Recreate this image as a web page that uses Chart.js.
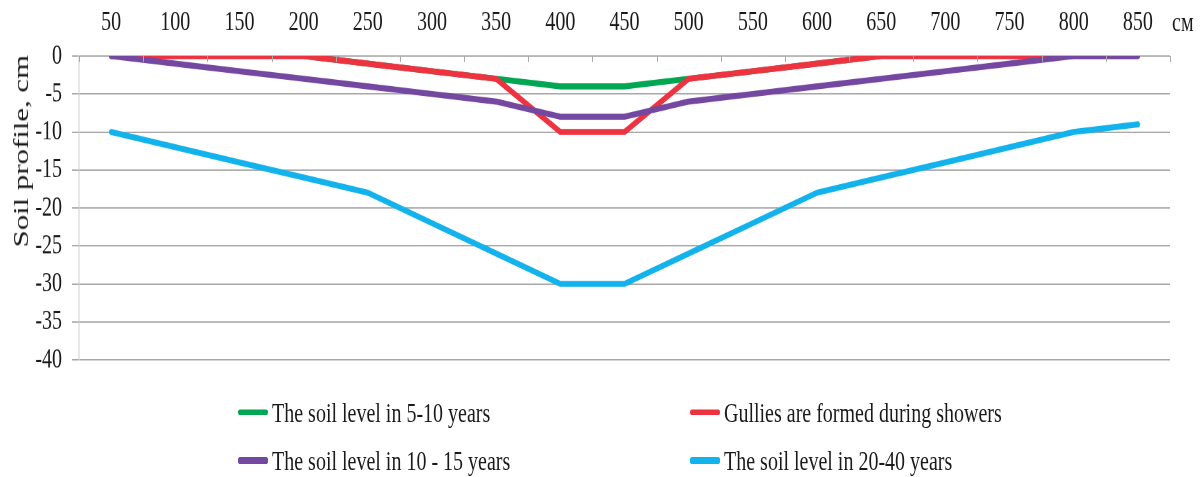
<!DOCTYPE html>
<html>
<head>
<meta charset="utf-8">
<script src="https://cdn.jsdelivr.net/npm/chart.js@4"></script>
<style>
  html, body { margin: 0; padding: 0; background: #fff; width: 1203px; height: 477px; overflow: hidden; }
  #wrap { position: absolute; left: 0; top: 0; width: 1203px; height: 340.7px; transform: scaleY(1.4); transform-origin: 0 0; font-family: "Liberation Serif", "Times New Roman", serif; color: #1a1a1a; }
  #cbox { position: absolute; left: 0; top: 0; width: 1203px; height: 279px; }
  #ytitle { position: absolute; left: 21px; top: 108px; transform: translate(-50%, -50%) rotate(-90deg); font-size: 22px; white-space: nowrap; }
  #unit { position: absolute; left: 1172px; top: 16px; transform: translateY(-50%); font-size: 20px; }
  .leg { position: absolute; display: flex; align-items: center; font-size: 20px; white-space: nowrap; transform: translateY(-50%); }
  .leg .sw { width: 30px; height: 4.3px; border-radius: 2px; margin-right: 4px; }
</style>
</head>
<body>
<div id="wrap">
  <div id="cbox"><canvas id="c" width="1203" height="279"></canvas></div>
  <div id="ytitle">Soil profile, cm</div>
  <div id="unit">см</div>
  <div id="legend"></div>
</div>
<script>
const categories = ['50','100','150','200','250','300','350','400','450','500','550','600','650','700','750','800','850'];
const soil5to10   = [0, 0, 0, 0, -1, -2, -3, -4, -4, -3, -2, -1, 0, 0, 0, 0, 0];
const gullies     = [0, 0, 0, 0, -1, -2, -3, -10, -10, -3, -2, -1, 0, 0, 0, 0, 0];
const soil10to15  = [0, -1, -2, -3, -4, -5, -6, -8, -8, -6, -5, -4, -3, -2, -1, 0, 0];
const soil20to40  = [-10, -12, -14, -16, -18, -22, -26, -30, -30, -26, -22, -18, -16, -14, -12, -10, -9];
const seriesNames = ['The soil level in 5-10 years', 'Gullies are formed during showers', 'The soil level in 10 - 15 years', 'The soil level in 20-40 years'];
const seriesColors = ['#00a651', '#ee3340', '#7448a0', '#12b3ec'];
const yMin = -40, yMax = 0, yStep = 5;

const seriesValues = [soil5to10, gullies, soil10to15, soil20to40];
const drawOrder = [3, 2, 1, 0];

const datasets = seriesValues.map((vals, i) => ({
  label: seriesNames[i],
  data: vals,
  borderColor: seriesColors[i],
  backgroundColor: seriesColors[i],
  borderWidth: 4.3,
  pointRadius: 0,
  tension: 0,
  fill: false,
  borderJoinStyle: 'round',
  borderCapStyle: 'round',
  order: drawOrder[i]
}));

const gridColor = '#a8a8a8';

const innerTicks = {
  id: 'innerTicks',
  afterDatasetsDraw(chart) {
    const xs = chart.scales.x;
    const ctx = chart.ctx;
    const n = categories.length;
    const top = chart.chartArea.top;
    ctx.save();
    ctx.strokeStyle = gridColor;
    ctx.lineWidth = 1;
    for (let i = 0; i <= n; i++) {
      const x = Math.round(xs.left + i * (xs.width / n)) + 0.5;
      ctx.beginPath();
      ctx.moveTo(x, top);
      ctx.lineTo(x, top + 4.3);
      ctx.stroke();
    }
    ctx.restore();
  }
};

const chart = new Chart(document.getElementById('c'), {
  type: 'line',
  data: { labels: categories, datasets },
  options: {
    responsive: false,
    animation: false,
    devicePixelRatio: 2,
    layout: { padding: { left: 0, right: 33, top: 0, bottom: 0 } },
    plugins: { legend: { display: false }, tooltip: { enabled: false } },
    scales: {
      x: {
        position: 'top',
        offset: true,
        grid: { display: false, drawTicks: false },
        border: { display: false },
        ticks: { padding: 12, color: '#1a1a1a', font: { family: 'Liberation Serif', size: 20 }, maxRotation: 0, autoSkip: false },
        afterFit(scale) { scale.height = 40; }
      },
      y: {
        min: yMin, max: yMax,
        grid: { color: gridColor, lineWidth: 1, tickLength: 7 },
        border: { display: true, color: '#cfcfcf' },
        ticks: { stepSize: yStep, autoSkip: false, padding: 10, color: '#1a1a1a', font: { family: 'Liberation Serif', size: 20 } },
        afterFit(scale) { scale.width = 79; }
      }
    }
  },
  plugins: [innerTicks]
});

// HTML legend built from the chart's datasets
const legendPos = [[238, 294.5], [690, 294.5], [238, 329], [690, 329]];
const legend = document.getElementById('legend');
chart.data.datasets.forEach((ds, i) => {
  const item = document.createElement('div');
  item.className = 'leg';
  item.style.left = legendPos[i][0] + 'px';
  item.style.top = legendPos[i][1] + 'px';
  const sw = document.createElement('span');
  sw.className = 'sw';
  sw.style.background = ds.borderColor;
  const tx = document.createElement('span');
  tx.textContent = ds.label;
  item.appendChild(sw);
  item.appendChild(tx);
  legend.appendChild(item);
});
</script>
</body>
</html>
